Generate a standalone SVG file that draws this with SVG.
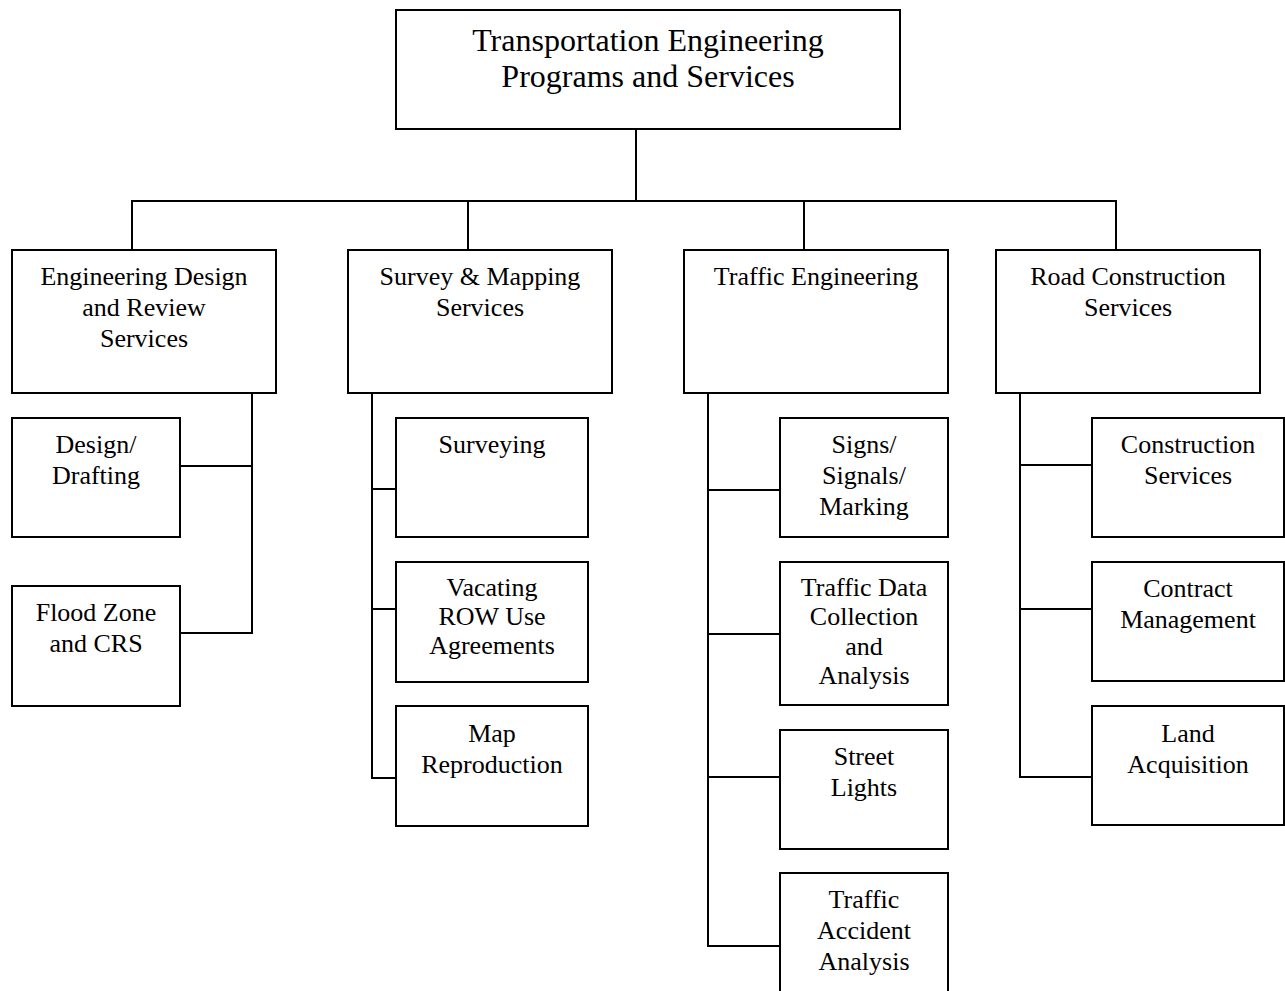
<svg xmlns="http://www.w3.org/2000/svg" width="1285" height="991" viewBox="0 0 1285 991">
<style>
rect{fill:#fff;stroke:#000;stroke-width:2}
.c line{stroke:#000;stroke-width:2;fill:none}
text{font-family:"Liberation Serif","Times New Roman",serif;font-size:26px;fill:#000;text-anchor:middle}
.t{font-size:32px}
</style>
<rect x="0" y="0" width="1285" height="991" style="stroke:none"/>
<g class="c" id="connectors">
<line x1="636" y1="129" x2="636" y2="201"/>
<line x1="131" y1="201" x2="1117" y2="201"/>
<line x1="132" y1="201" x2="132" y2="250"/>
<line x1="468" y1="201" x2="468" y2="250"/>
<line x1="804" y1="201" x2="804" y2="250"/>
<line x1="1116" y1="201" x2="1116" y2="250"/>
<line x1="252" y1="393" x2="252" y2="634"/>
<line x1="180" y1="466" x2="253" y2="466"/>
<line x1="180" y1="633" x2="253" y2="633"/>
<line x1="372" y1="393" x2="372" y2="779"/>
<line x1="371" y1="489" x2="396" y2="489"/>
<line x1="371" y1="609" x2="396" y2="609"/>
<line x1="371" y1="778" x2="396" y2="778"/>
<line x1="708" y1="393" x2="708" y2="947"/>
<line x1="707" y1="490" x2="780" y2="490"/>
<line x1="707" y1="634" x2="780" y2="634"/>
<line x1="707" y1="777" x2="780" y2="777"/>
<line x1="707" y1="946" x2="780" y2="946"/>
<line x1="1020" y1="393" x2="1020" y2="778"/>
<line x1="1019" y1="465" x2="1092" y2="465"/>
<line x1="1019" y1="609" x2="1092" y2="609"/>
<line x1="1019" y1="777" x2="1092" y2="777"/>
</g>
<g id="root"><rect x="396" y="10" width="504" height="119"/><text class="t" x="648" y="51">Transportation Engineering</text><text class="t" x="648" y="87">Programs and Services</text></g>
<g id="eng"><rect x="12" y="250" width="264" height="143"/><text x="144" y="285">Engineering Design</text><text x="144" y="316">and Review</text><text x="144" y="347">Services</text></g>
<g id="survey"><rect x="348" y="250" width="264" height="143"/><text x="480" y="285">Survey &amp; Mapping</text><text x="480" y="316">Services</text></g>
<g id="traffic"><rect x="684" y="250" width="264" height="143"/><text x="816" y="285">Traffic Engineering</text></g>
<g id="road"><rect x="996" y="250" width="264" height="143"/><text x="1128" y="285">Road Construction</text><text x="1128" y="316">Services</text></g>
<g id="design"><rect x="12" y="418" width="168" height="119"/><text x="96" y="453">Design/</text><text x="96" y="484">Drafting</text></g>
<g id="flood"><rect x="12" y="586" width="168" height="120"/><text x="96" y="621">Flood Zone</text><text x="96" y="652">and CRS</text></g>
<g id="surveying"><rect x="396" y="418" width="192" height="119"/><text x="492" y="453">Surveying</text></g>
<g id="vacating"><rect x="396" y="562" width="192" height="120"/><text x="492" y="596">Vacating</text><text x="492" y="625">ROW Use</text><text x="492" y="654">Agreements</text></g>
<g id="map"><rect x="396" y="706" width="192" height="120"/><text x="492" y="742">Map</text><text x="492" y="773">Reproduction</text></g>
<g id="signs"><rect x="780" y="418" width="168" height="119"/><text x="864" y="453">Signs/</text><text x="864" y="484">Signals/</text><text x="864" y="515">Marking</text></g>
<g id="data"><rect x="780" y="562" width="168" height="143"/><text x="864" y="596">Traffic Data</text><text x="864" y="625">Collection</text><text x="864" y="655">and</text><text x="864" y="684">Analysis</text></g>
<g id="lights"><rect x="780" y="730" width="168" height="119"/><text x="864" y="765">Street</text><text x="864" y="796">Lights</text></g>
<g id="accident"><rect x="780" y="873" width="168" height="121"/><text x="864" y="908">Traffic</text><text x="864" y="939">Accident</text><text x="864" y="970">Analysis</text></g>
<g id="construction"><rect x="1092" y="418" width="192" height="119"/><text x="1188" y="453">Construction</text><text x="1188" y="484">Services</text></g>
<g id="contract"><rect x="1092" y="562" width="192" height="119"/><text x="1188" y="597">Contract</text><text x="1188" y="628">Management</text></g>
<g id="land"><rect x="1092" y="706" width="192" height="119"/><text x="1188" y="742">Land</text><text x="1188" y="773">Acquisition</text></g>
</svg>
